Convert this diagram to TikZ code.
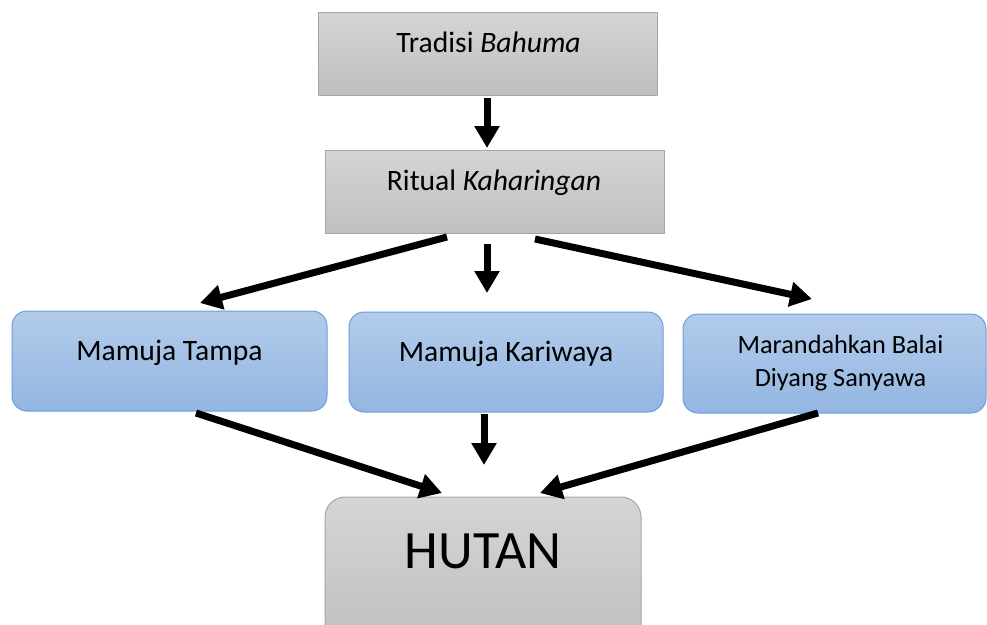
\documentclass[tikz,border=0pt]{standalone}
\usepackage{fontspec}
\setmainfont{Carlito}
\usetikzlibrary{arrows.meta,calc}
\definecolor{grayTop}{HTML}{D5D5D5}
\definecolor{grayBot}{HTML}{BFBFBF}
\definecolor{grayLine}{HTML}{A6A6A6}
\definecolor{blueTop}{HTML}{B3CBEA}
\definecolor{blueBot}{HTML}{93B6E2}
\definecolor{blueLine}{HTML}{6A9FD8}
\begin{document}
\begin{tikzpicture}[x=1pt,y=-1pt,
  graybox/.style={draw=grayLine, line width=1pt, top color=grayTop, bottom color=grayBot, inner sep=0pt, outer sep=0pt},
  bluebox/.style={draw=blueLine, line width=1pt, top color=blueTop, bottom color=blueBot, rounded corners=15pt, inner sep=0pt, outer sep=0pt},
  lbl/.style={anchor=base, font=\fontsize{29.6}{35}\selectfont, inner sep=0pt},
  lblsmall/.style={anchor=base, font=\fontsize{26.3}{33}\selectfont, inner sep=0pt},
  lblbig/.style={anchor=base, font=\fontsize{54}{60}\selectfont, inner sep=0pt},
  arr/.style={line width=7pt, -{Triangle[width=24pt,length=22pt]}}
]
\useasboundingbox (0,0) rectangle (987,624);
\clip (0,0) rectangle (987,624);

% boxes
\node[graybox, minimum width=339pt, minimum height=83pt] (b1) at (487.5,53.5) {};
\node[graybox, minimum width=339pt, minimum height=83pt] (b2) at (494.5,191.5) {};
\node[bluebox, minimum width=315pt, minimum height=100pt] (c1) at (169.5,361) {};
\node[bluebox, minimum width=314pt, minimum height=100pt] (c2) at (506,362) {};
\node[bluebox, minimum width=303pt, minimum height=99pt] (c3) at (834.5,363.5) {};
\node[graybox, rounded corners=20pt, minimum width=316pt, minimum height=150pt] (h) at (483,572) {};

% texts
\node[lbl] (t1) at (488.5,52) {Tradisi \textit{Bahuma}};
\node[lbl] (t2) at (494,190) {Ritual \textit{Kaharingan}};
\node[lbl] (t3) at (169.5,360) {Mamuja Tampa};
\node[lbl] (t4) at (506,361) {Mamuja Kariwaya};
\node[lblsmall] (t5a) at (840.5,353) {Marandahkan Balai};
\node[lblsmall] (t5b) at (840.5,386) {Diyang Sanyawa};
\node[lblbig] (th) at (483,568) {HUTAN};

% arrow end points
\coordinate (a1s) at (487,98);   \coordinate (a1e) at (487,148);
\coordinate (a2s) at (447,237);  \coordinate (a2e) at (200,303);
\coordinate (a3s) at (487,244);  \coordinate (a3e) at (487,293);
\coordinate (a4s) at (535,239);  \coordinate (a4e) at (812,299);
\coordinate (a5s) at (196,413);  \coordinate (a5e) at (442,493);
\coordinate (a6s) at (484,414);  \coordinate (a6e) at (484,465);
\coordinate (a7s) at (818,413);  \coordinate (a7e) at (540,493);

\draw[arr] (a1s) -- (a1e);
\draw[arr] (a2s) -- (a2e);
\draw[arr] (a3s) -- (a3e);
\draw[arr] (a4s) -- (a4e);
\draw[arr] (a5s) -- (a5e);
\draw[arr] (a6s) -- (a6e);
\draw[arr] (a7s) -- (a7e);
\end{tikzpicture}
\end{document}
